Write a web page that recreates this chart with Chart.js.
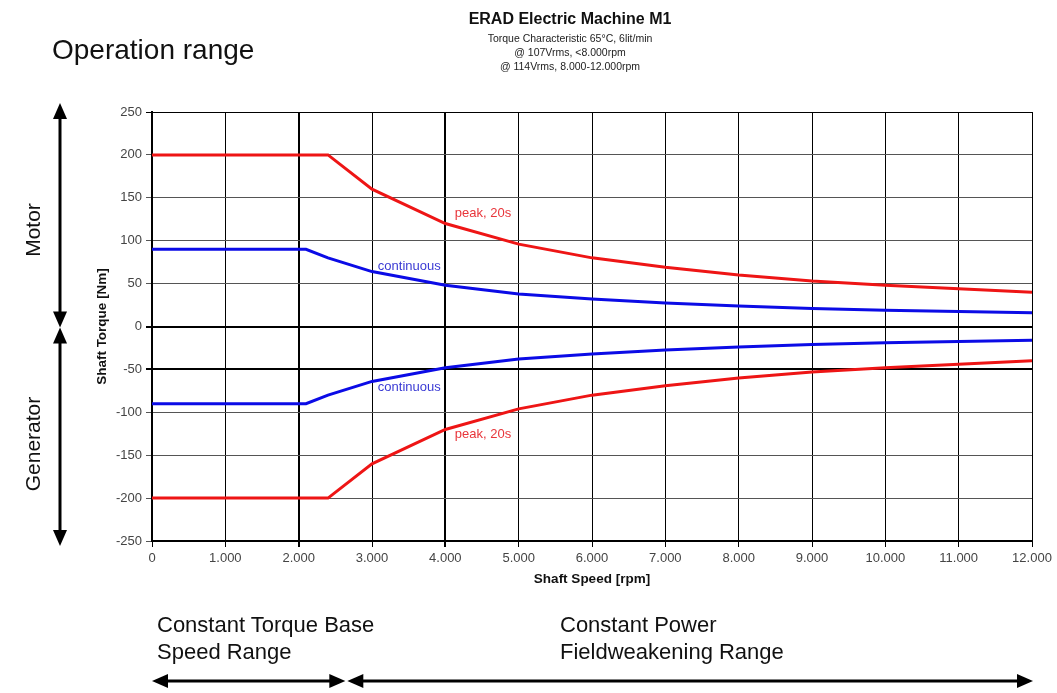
<!DOCTYPE html>
<html>
<head>
<meta charset="utf-8">
<title>ERAD Electric Machine M1 – Operation range</title>
<script src="https://cdn.jsdelivr.net/npm/chart.js@4/dist/chart.umd.min.js"></script>
<style>
  html, body { margin: 0; padding: 0; background: #fff; }
  #wrap { position: relative; width: 1057px; height: 693px; overflow: hidden; font-family: "Liberation Sans", Arial, sans-serif; }
  #chart { position: absolute; left: 0; top: 0; }
  .txt { position: absolute; white-space: nowrap; color: #111; }
  .title { left: 370px; width: 400px; text-align: center; }
  .rot { transform: translate(-50%, -50%) rotate(-90deg); }
</style>
</head>
<body>
<div id="wrap">
  <canvas id="chart" width="1057" height="693"></canvas>

  <div class="txt" style="left:52px; top:34px; font-size:28px;">Operation range</div>

  <div class="txt title" style="top:10px; font-size:16px; font-weight:bold;">ERAD Electric Machine M1</div>
  <div class="txt title" style="top:32px; font-size:10.5px; color:#222;">Torque Characteristic 65°C, 6lit/min</div>
  <div class="txt title" style="top:46px; font-size:10.5px; color:#222;">@ 107Vrms, &lt;8.000rpm</div>
  <div class="txt title" style="top:60px; font-size:10.5px; color:#222;">@ 114Vrms, 8.000-12.000rpm</div>

  <div class="txt rot" style="left:33px; top:230px; font-size:21px;">Motor</div>
  <div class="txt rot" style="left:33px; top:444px; font-size:21px;">Generator</div>

  <div class="txt" style="left:157px; top:611px; font-size:22px; line-height:27px;">Constant Torque Base<br>Speed Range</div>
  <div class="txt" style="left:560px; top:611px; font-size:22px; line-height:27px;">Constant Power<br>Fieldweakening Range</div>
</div>

<script>
// Speed grid for the horizontal axis and its tick labels (German thousands separator)
const speedTicks = [0, 1000, 2000, 3000, 4000, 5000, 6000, 7000, 8000, 9000, 10000, 11000, 12000];
const speedTickLabels = ['0', '1.000', '2.000', '3.000', '4.000', '5.000', '6.000', '7.000', '8.000', '9.000', '10.000', '11.000', '12.000'];

// Peak torque (20 s) – motor and generator operation
const peakSpeed = [0, 2400, 3000, 4000, 5000, 6000, 7000, 8000, 9000, 10000, 11000, 12000];
const peakMotor = [200, 200, 160, 120, 96, 80, 69, 60, 53, 48, 44, 40];
const peakGenerator = [-200, -200, -160, -120, -96, -80, -69, -60, -53, -48, -44, -40];

// Continuous torque – motor and generator operation
const contSpeed = [0, 2100, 2400, 3000, 4000, 5000, 6000, 7000, 8000, 9000, 10000, 11000, 12000];
const contMotor = [90, 90, 80, 64, 48, 38, 32, 27.5, 24, 21, 19, 17.5, 16];
const contGenerator = [-90, -90, -80, -64, -48, -38, -32, -27.5, -24, -21, -19, -17.5, -16];

const RED = '#ee1515';
const BLUE = '#0b0be6';

function pts(xs, ys) { return xs.map((x, i) => ({ x: x, y: ys[i] })); }

// Curve captions, anchored in data coordinates (rpm, Nm)
const curveNotes = [
  { text: 'peak, 20s', rpm: 4130, nm: 132, color: '#e8353a' },
  { text: 'peak, 20s', rpm: 4130, nm: -126, color: '#e8353a' },
  { text: 'continuous', rpm: 3080, nm: 70, color: '#3a3ad4' },
  { text: 'continuous', rpm: 3080, nm: -71, color: '#3a3ad4' }
];

Chart.defaults.font.family = '"Liberation Sans", Arial, sans-serif';

function arrow(ctx, x1, y1, x2, y2) {
  const ang = Math.atan2(y2 - y1, x2 - x1);
  const len = 16, half = 7;
  ctx.beginPath();
  ctx.moveTo(x1 + Math.cos(ang) * (len - 2), y1 + Math.sin(ang) * (len - 2));
  ctx.lineTo(x2 - Math.cos(ang) * (len - 2), y2 - Math.sin(ang) * (len - 2));
  ctx.stroke();
  [[x1, y1, ang + Math.PI], [x2, y2, ang]].forEach(([tx, ty, a]) => {
    ctx.beginPath();
    ctx.moveTo(tx, ty);
    ctx.lineTo(tx - Math.cos(a) * len - Math.sin(a) * half, ty - Math.sin(a) * len + Math.cos(a) * half);
    ctx.lineTo(tx - Math.cos(a) * len + Math.sin(a) * half, ty - Math.sin(a) * len - Math.cos(a) * half);
    ctx.closePath();
    ctx.fill();
  });
}

const extras = {
  id: 'extras',
  afterDatasetsDraw(chart) {
    const ctx = chart.ctx;
    const xs = chart.scales.x, ys = chart.scales.y;
    ctx.save();
    ctx.font = '13px "Liberation Sans", Arial, sans-serif';
    ctx.textBaseline = 'middle';
    ctx.textAlign = 'left';
    curveNotes.forEach(n => {
      ctx.fillStyle = n.color;
      ctx.fillText(n.text, xs.getPixelForValue(n.rpm), ys.getPixelForValue(n.nm));
    });
    ctx.restore();
  },
  afterDraw(chart) {
    const ctx = chart.ctx;
    const a = chart.chartArea;
    const xs = chart.scales.x, ys = chart.scales.y;
    ctx.save();
    ctx.strokeStyle = '#000';
    ctx.fillStyle = '#000';
    ctx.lineWidth = 3;
    // Motor / generator quadrant arrows
    const mid = ys.getPixelForValue(0) + 1;
    arrow(ctx, 60, 103, 60, mid);
    arrow(ctx, 60, mid, 60, 546);
    // Speed range arrows
    const split = xs.getPixelForValue(2650);
    arrow(ctx, a.left, 681, split - 1, 681);
    arrow(ctx, split + 1, 681, a.right + 1, 681);
    ctx.restore();
  }
};

new Chart(document.getElementById('chart'), {
  type: 'line',
  data: {
    datasets: [
      { label: 'peak motor', data: pts(peakSpeed, peakMotor), borderColor: RED },
      { label: 'continuous motor', data: pts(contSpeed, contMotor), borderColor: BLUE },
      { label: 'continuous generator', data: pts(contSpeed, contGenerator), borderColor: BLUE },
      { label: 'peak generator', data: pts(peakSpeed, peakGenerator), borderColor: RED }
    ]
  },
  options: {
    responsive: false,
    animation: false,
    layout: { padding: { left: 90, right: 25, top: 112, bottom: 102 } },
    elements: {
      line: { borderWidth: 3, tension: 0, fill: false },
      point: { radius: 0, hoverRadius: 0 }
    },
    plugins: { legend: { display: false }, tooltip: { enabled: false }, title: { display: false } },
    scales: {
      x: {
        type: 'linear',
        min: 0,
        max: 12000,
        afterBuildTicks: s => { s.ticks = speedTicks.map(v => ({ value: v })); },
        afterFit: s => { s.height = 50; },
        ticks: {
          autoSkip: false,
          maxRotation: 0,
          padding: 4,
          color: '#444',
          font: { size: 13 },
          callback: (v) => speedTickLabels[speedTicks.indexOf(v)]
        },
        grid: {
          color: '#000',
          lineWidth: c => (c.tick && (c.tick.value === 2000 || c.tick.value === 4000)) ? 2 : 1,
          tickLength: 6
        },
        border: { color: '#000', width: 2 },
        title: {
          display: true,
          text: 'Shaft Speed [rpm]',
          color: '#111',
          font: { size: 13.5, weight: 'bold' },
          padding: { top: 0, bottom: 4 }
        }
      },
      y: {
        min: -250,
        max: 250,
        afterFit: s => { s.width = 62; },
        ticks: { stepSize: 50, padding: 4, color: '#444', font: { size: 13 } },
        grid: {
          color: c => (c.tick && (c.tick.value === 0 || c.tick.value === -50 || c.tick.value === 250)) ? '#000' : '#555',
          lineWidth: c => (c.tick && (c.tick.value === 0 || c.tick.value === -50)) ? 2 : 1,
          tickLength: 6
        },
        border: { color: '#000', width: 2 },
        title: {
          display: true,
          text: 'Shaft Torque [Nm]',
          color: '#111',
          font: { size: 13.5, weight: 'bold' },
          padding: { top: 4, bottom: 0 }
        }
      }
    }
  },
  plugins: [extras]
});
</script>
</body>
</html>
